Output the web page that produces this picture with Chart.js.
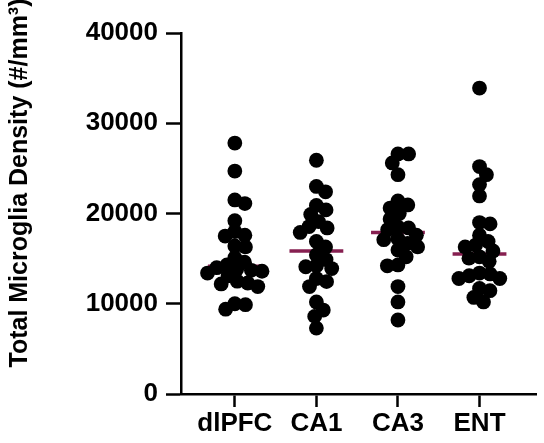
<!DOCTYPE html>
<html lang="en">
<head>
<meta charset="utf-8" />
<title>Total microglia density</title>
<script src="https://cdn.jsdelivr.net/npm/chart.js@4/dist/chart.umd.min.js"></script>
<style>
  html, body { margin: 0; padding: 0; background: #fff; }
  #wrap { width: 544px; height: 443px; position: relative; }
</style>
</head>
<body>
<div id="wrap"><canvas id="chart"></canvas></div>
<script>
  // values (#/mm3)
  const categories = ["dlPFC", "CA1", "CA3", "ENT"]
  const dlpfc = [27800, 24700, 21500, 21100, 19200, 18000, 17600, 17500, 16400, 16300, 15100, 14600, 14300,
    14000, 13800, 13700, 13600, 13400, 13100, 12500, 12300, 12200, 11900, 10000, 9900, 9400]
  const ca1 = [25900, 23000, 22400, 20900, 20400, 19900, 19100, 18550, 18400, 17900, 16900, 16300, 15400,
    14900, 14200, 14100, 13900, 12800, 12450, 11900, 10200, 9300, 8600, 7300]
  const ca3 = [26600, 26600, 25600, 24300, 21400, 20950, 20600, 20000, 19400, 18500, 18400, 18200, 17600,
    17200, 17100, 16700, 16300, 15950, 15200, 14300, 14200, 11900, 10200, 8200]
  const ent = [33900, 25200, 24300, 23200, 21950, 19000, 18850, 17600, 16900, 16500, 16300, 15850, 15200,
    15050, 14700, 13400, 13300, 13100, 12800, 12800, 11700, 11450, 10700, 10200]
  const groups = [dlpfc, ca1, ca3, ent]
  const yTicks = [0, 10000, 20000, 30000, 40000]

  const DOT = 7.4
  const MEDIAN_COLOR = "#861f50"
  const FONT = "'Liberation Sans', Arial, sans-serif"

  const median = (arr) => {
    const s = [...arr].sort((a, b) => a - b)
    const m = Math.floor(s.length / 2)
    return s.length % 2 ? s[m] : (s[m - 1] + s[m]) / 2
  }

  const dotSets = groups.map((vals, gi) => ({
    type: "scatter",
    data: vals.map(v => ({ x: gi + 1, y: v })),
    backgroundColor: "#000",
    borderWidth: 0,
    pointRadius: DOT,
    pointHoverRadius: DOT,
    order: 0,
  }))

  const medianSets = groups.map((vals, gi) => {
    const m = median(vals)
    return {
      type: "line",
      data: [{ x: gi + 1 - 0.33, y: m }, { x: gi + 1 + 0.33, y: m }],
      borderColor: MEDIAN_COLOR,
      borderWidth: 3.5,
      pointRadius: 0,
      fill: false,
      order: 1,
    }
  })

  // rotated y title, sits a little above the axis centre like the original
  const yTitle = {
    id: "yTitle",
    afterDraw(chart) {
      const ctx = chart.ctx
      ctx.save()
      ctx.translate(20, 183)
      ctx.rotate(-Math.PI / 2)
      ctx.font = "bold 25px " + FONT
      ctx.fillStyle = "#000"
      ctx.textAlign = "center"
      ctx.textBaseline = "middle"
      ctx.fillText("Total Microglia Density (#/mm³)", 0, 0)
      ctx.restore()
    },
  }

  const chart = new Chart(document.getElementById("chart"), {
    type: "scatter",
    data: { datasets: [...dotSets, ...medianSets] },
    options: {
      responsive: true,
      maintainAspectRatio: false,
      animation: false,
      layout: { padding: { left: 40, top: 33, right: 0, bottom: 0 } },
      plugins: { legend: { display: false }, tooltip: { enabled: false } },
      scales: {
        x: {
          type: "linear",
          min: 0.34,
          max: 4.7,
          afterBuildTicks: (s) => { s.ticks = categories.map((c, i) => ({ value: i + 1 })) },
          afterFit: (s) => { s.height = 49 },
          ticks: {
            callback: (v) => categories[v - 1],
            color: "#000",
            font: { family: FONT, size: 26, weight: "bold" },
            padding: 1,
            maxRotation: 0,
          },
          grid: { drawOnChartArea: false, tickLength: 13, tickColor: "#000", tickWidth: 2.5 },
          border: { color: "#000", width: 2.5 },
        },
        y: {
          min: 0,
          max: 40000,
          afterBuildTicks: (s) => { s.ticks = yTicks.map(v => ({ value: v })) },
          afterFit: (s) => { s.width = 141 },
          ticks: {
            callback: (v) => String(v),
            color: "#000",
            font: { family: FONT, size: 26, weight: "bold" },
            padding: 8,
          },
          grid: { drawOnChartArea: false, tickLength: 15, tickColor: "#000", tickWidth: 2.5 },
          border: { color: "#000", width: 2.5 },
        },
      },
    },
    plugins: [yTitle],
  })

  // spread each column sideways, letting dots overlap a bit (simple beeswarm in pixel space)
  function swarm() {
    const xs = chart.scales.x, ys = chart.scales.y
    const pxPerUnit = xs.getPixelForValue(2) - xs.getPixelForValue(1)
    const gap = DOT * 2 * 0.72
    groups.forEach((vals, gi) => {
      const idx = vals.map((v, i) => i).sort((a, b) => vals[b] - vals[a])
      const placed = []
      const off = new Array(vals.length).fill(0)
      idx.forEach(i => {
        const py = ys.getPixelForValue(vals[i])
        const near = placed.filter(p => Math.abs(p.y - py) < gap)
        const cands = [0]
        near.forEach(p => {
          const dx = Math.sqrt(gap * gap - (p.y - py) ** 2)
          cands.push(p.x + dx, p.x - dx)
        })
        cands.sort((a, b) => Math.abs(a) - Math.abs(b))
        const ok = cands.find(c => near.every(p => (p.x - c) ** 2 + (p.y - py) ** 2 >= gap * gap - 0.01))
        off[i] = ok
        placed.push({ x: ok, y: py })
      })
      chart.data.datasets[gi].data = vals.map((v, i) => ({ x: gi + 1 + off[i] / pxPerUnit, y: v }))
    })
    chart.update("none")
  }
  swarm()
</script>
</body>
</html>
